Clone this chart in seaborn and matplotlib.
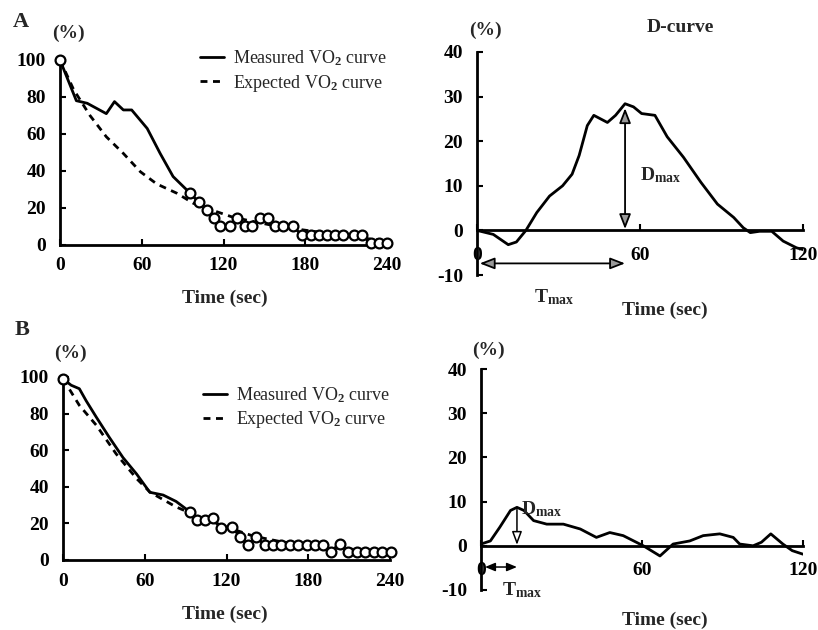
import numpy as np
import pandas as pd
import matplotlib
matplotlib.use('Agg')
import matplotlib.pyplot as plt
import seaborn as sns

# ---- panel A, VO2 recovery (%)
a_meas_t = [0, 12, 20, 34, 40, 46.5, 52.6, 64, 73.5, 83, 95.5, 102, 108, 113, 117.5, 125, 130, 136, 141,
            147, 153, 158, 164, 171, 177.5, 184, 190, 196, 202, 208, 215.5, 221.6, 228, 234, 240]
a_meas_v = [100, 78, 76.6, 71, 77.5, 73, 73, 63, 49.5, 37, 28, 23, 19, 14.4, 10, 10, 14.4, 10, 10,
            14.4, 14.4, 10, 10, 10, 5.4, 5.4, 5.4, 5.4, 5.4, 5.4, 5.4, 5.4, 1, 1, 1]
a_exp_t = [0, 10, 22, 34, 46.5, 59, 71, 85.7, 98, 115, 127, 140, 160, 180, 200, 220, 240]
a_exp_v = [100, 84, 70, 58.5, 49.5, 39.6, 33, 28, 22.5, 18, 15, 13, 10, 8, 6, 4, 2]
a_circ_start = 95  # circles drawn from here on (plus t=0)

# ---- panel B
b_meas_t = [0, 6, 12, 17, 24.5, 34, 44, 54, 63.7, 73.5, 83, 93, 98, 104, 110, 116, 124, 130, 136, 142,
            148, 154, 160, 166.5, 172.7, 179, 185, 191, 197, 203, 209, 215.5, 221.6, 228, 234, 241]
b_meas_v = [99, 95.5, 93.6, 87, 78, 67, 56, 47, 37, 35.5, 32, 26.4, 21.8, 21.8, 22.7, 17.3, 18, 12.7, 8, 12.7,
            8, 8, 8, 8, 8, 8, 8, 8, 4.5, 9, 4.5, 4.5, 4.5, 4.5, 4.5, 4.5]
b_exp_t = [0, 12, 24.5, 39, 54, 64, 83, 100, 120, 140, 160, 180, 200, 220, 240]
b_exp_v = [99, 84.5, 73.6, 58, 44.5, 37, 29, 23.6, 18, 13, 10, 8, 6.5, 5.5, 5]
b_circ_start = 92

# ---- D-curves (measured - expected, %)
da_t = [0, 6, 11.5, 14.5, 18, 22, 26.7, 31.5, 35, 37.6, 40.6, 43, 45.5, 48, 51, 54.5, 57.6, 60.6, 65.5,
        70, 76, 82.4, 88.5, 94.5, 98, 100.6, 104, 108.5, 112.7, 117.6, 120]
da_v = [0, -0.9, -3.2, -2.6, 0, 4, 7.7, 10, 12.6, 16.8, 23.5, 25.8, 25, 24.2, 25.8, 28.4, 27.7, 26.2, 25.8,
        21, 16.4, 10.8, 5.9, 2.9, 0.6, -0.5, -0.2, -0.2, -2.4, -3.9, -4.3]
db_t = [0, 3.5, 7, 11, 13.4, 16, 19.6, 24.5, 30.7, 37, 43, 48, 53, 60.5, 66.7, 71.6, 77.8, 82.8, 89,
        94, 96.4, 101.4, 104.5, 108, 112.5, 116, 120]
db_v = [0.4, 1.1, 4.2, 8, 8.7, 8, 5.7, 4.9, 4.9, 3.8, 1.9, 3, 2.3, 0, -2.3, 0.4, 1.1, 2.3, 2.7,
        1.9, 0.4, 0, 0.8, 2.7, 0.4, -1.1, -1.9]

# Dmax / Tmax markers
a_tmax, a_dmax = 54.5, 28.4
b_tmax, b_dmax = 13.4, 8.7

sns.set_style('ticks')
plt.rcParams['font.family'] = ['Liberation Serif', 'DejaVu Serif']
plt.rcParams['font.weight'] = 'bold'
plt.rcParams['axes.unicode_minus'] = False
plt.rcParams['mathtext.fontset'] = 'custom'
plt.rcParams['mathtext.rm'] = 'Liberation Serif'
plt.rcParams['mathtext.it'] = 'Liberation Serif:italic'
plt.rcParams['mathtext.bf'] = 'Liberation Serif:bold'

W, H = 818, 630
fig = plt.figure(figsize=(W / 100, H / 100), dpi=100)


def px_axes(x0, x1, y_top, y_bot):
    return fig.add_axes([x0 / W, 1 - y_bot / H, (x1 - x0) / W, (y_bot - y_top) / H])


def style_axes(ax):
    for s in ['top', 'right']:
        ax.spines[s].set_visible(False)
    for s in ['left', 'bottom']:
        ax.spines[s].set_linewidth(2)
        ax.spines[s].set_color('black')
    ax.tick_params(direction='in', length=4, width=1.5, labelsize=14, colors='black')
    ax.tick_params(axis='y', pad=10)
    for lab in ax.get_xticklabels() + ax.get_yticklabels():
        lab.set_fontweight('bold')


def vo2_panel(ax, mt, mv, et, ev, cstart, legend_y):
    meas = pd.DataFrame({'t': mt, 'v': mv})
    exp_ = pd.DataFrame({'t': et, 'v': ev})
    sns.lineplot(data=meas, x='t', y='v', ax=ax, color='black', lw=2, label=r'Measured VO$_2$ curve')
    sns.lineplot(data=exp_, x='t', y='v', ax=ax, color='black', lw=2, label=r'Expected VO$_2$ curve')
    ax.lines[1].set_dashes([2.5, 2])
    circ = meas[(meas['t'] >= cstart) | (meas['t'] == 0)]
    sns.scatterplot(data=circ, x='t', y='v', ax=ax, marker='o', s=50, facecolor='white',
                    edgecolor='black', linewidth=1.6, zorder=5, clip_on=False)
    ax.set_xlim(0, 240)
    ax.set_ylim(0, 100)
    ax.set_xticks([0, 60, 120, 180, 240])
    ax.set_yticks([0, 20, 40, 60, 80, 100])
    ax.set_ylabel('')
    ax.set_xlabel('Time (sec)', fontsize=14, fontweight='bold')
    style_axes(ax)
    ax.tick_params(axis='x', pad=9)
    leg = ax.legend(loc='upper right', bbox_to_anchor=(1.05, legend_y), frameon=False,
                    handlelength=1.3, handletextpad=0.5, fontsize=13, labelspacing=0.25)
    for txt in leg.get_texts():
        txt.set_fontweight('normal')


def d_panel(ax, t, v):
    d = pd.DataFrame({'t': t, 'v': v})
    sns.lineplot(data=d, x='t', y='v', ax=ax, color='black', lw=2)
    ax.set_xlim(0, 120)
    ax.set_ylim(-10, 40)
    ax.spines['bottom'].set_position(('data', 0))
    ax.set_xticks([0, 60, 120])
    ax.set_yticks([-10, 0, 10, 20, 30, 40])
    ax.set_ylabel('')
    ax.set_xlabel('Time (sec)', fontsize=14, fontweight='bold')
    style_axes(ax)
    ax.tick_params(axis='x', pad=12)


arrow_kw = dict(arrowstyle='<|-|>,head_length=0.9,head_width=0.35', fc='0.6', ec='black', lw=1.3,
                shrinkA=0, shrinkB=0)

# A left
ax1 = px_axes(60, 387, 60, 245)
vo2_panel(ax1, a_meas_t, a_meas_v, a_exp_t, a_exp_v, a_circ_start, 1.15)
ax1.xaxis.set_label_coords(0.505, -0.24)

# A right
ax2 = px_axes(477, 803, 52, 275)
d_panel(ax2, da_t, da_v)
ax2.xaxis.set_label_coords(0.577, -0.12)
ax2.annotate('', xy=(a_tmax, a_dmax - 1), xytext=(a_tmax, 0.3), arrowprops=arrow_kw)
ax2.annotate('', xy=(a_tmax, -7.4), xytext=(1, -7.4), arrowprops=arrow_kw)
ax2.text(60, 12.3, r'D$_{\mathregular{max}}$', fontsize=14, fontweight='bold', va='center', ha='left')
ax2.text(21, -15, r'T$_{\mathregular{max}}$', fontsize=14, fontweight='bold', va='center', ha='left')

# B left
ax3 = px_axes(63, 390, 377, 560)
vo2_panel(ax3, b_meas_t, b_meas_v, b_exp_t, b_exp_v, b_circ_start, 1.045)
ax3.xaxis.set_label_coords(0.495, -0.25)

# B right
ax4 = px_axes(481, 803, 369, 590)
d_panel(ax4, db_t, db_v)
ax4.xaxis.set_label_coords(0.571, -0.1)
ax4.annotate('', xy=(b_tmax, 0.2), xytext=(b_tmax, b_dmax - 0.5),
             arrowprops=dict(arrowstyle='-|>,head_length=0.8,head_width=0.3', fc='white', ec='black',
                             lw=1.1, shrinkA=0, shrinkB=0))
ax4.annotate('', xy=(b_tmax, -4.8), xytext=(1.5, -4.8),
             arrowprops=dict(arrowstyle='<|-|>,head_length=0.6,head_width=0.25', fc='black', ec='black',
                             lw=1.1, shrinkA=0, shrinkB=0))
ax4.text(15, 8.2, r'D$_{\mathregular{max}}$', fontsize=14, fontweight='bold', va='center', ha='left')
ax4.text(8, -10, r'T$_{\mathregular{max}}$', fontsize=14, fontweight='bold', va='center', ha='left')

# panel letters and unit labels
fig.text(13 / W, 1 - 22 / H, 'A', fontsize=16, fontweight='bold', ha='left', va='center')
fig.text(15 / W, 1 - 330 / H, 'B', fontsize=16, fontweight='bold', ha='left', va='center')
fig.text(68 / W, 1 - 33 / H, '(%)', fontsize=14, fontweight='bold', ha='center', va='center')
fig.text(485 / W, 1 - 30 / H, '(%)', fontsize=14, fontweight='bold', ha='center', va='center')
fig.text(70 / W, 1 - 353 / H, '(%)', fontsize=14, fontweight='bold', ha='center', va='center')
fig.text(488 / W, 1 - 350 / H, '(%)', fontsize=14, fontweight='bold', ha='center', va='center')
fig.text(680 / W, 1 - 28 / H, 'D-curve', fontsize=14, fontweight='bold', ha='center', va='center')

fig.savefig('out.png', dpi=100, facecolor='white')
